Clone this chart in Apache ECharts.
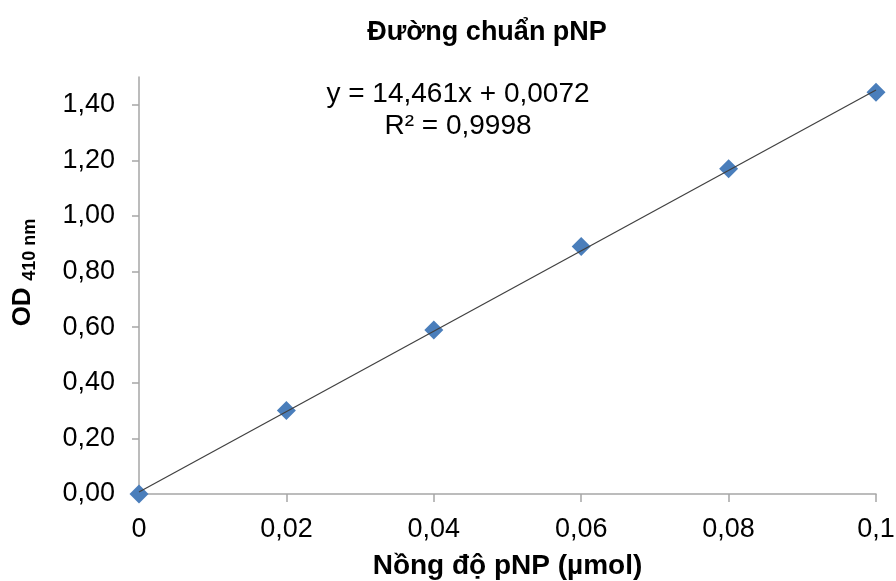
<!DOCTYPE html>
<html>
<head>
<meta charset="utf-8">
<title>Đường chuẩn pNP</title>
<script src="https://cdn.jsdelivr.net/npm/echarts@6.0.0/dist/echarts.min.js"></script>
<style>
	html, body { margin: 0; padding: 0; background: #fff; }
	#main { width: 896px; height: 581px; }
</style>
</head>
<body>
<div id="main"></div>
<script>
// nong do pNP (umol) va OD 410 nm
var concValues = [0, 0.02, 0.04, 0.06, 0.08, 0.1];
var odValues = [0, 0.30, 0.59, 0.89, 1.17, 1.445];

var xTicks = [0, 0.02, 0.04, 0.06, 0.08, 0.1];
var yTicks = [0, 0.2, 0.4, 0.6, 0.8, 1.0, 1.2, 1.4];

// duong xu huong
var slope = 14.461;
var intercept = 0.0072;
var eqText = ['y = 14,461x + 0,0072', 'R² = 0,9998'];

var font = '"Liberation Sans", Arial, sans-serif';
var axisGray = '#a6a6a6';

var points = [];
for (var i = 0; i < concValues.length; i++) {
	points.push([concValues[i], odValues[i]]);
}
var x0 = xTicks[0], x1 = xTicks[xTicks.length - 1];
var trend = [[x0, slope * x0 + intercept], [x1, slope * x1 + intercept]];

function comma(v, d){
	var s = d == null ? String(+v.toFixed(4)) : v.toFixed(d);
	return s.replace('.', ',');
}

var myChart = echarts.init(document.getElementById('main'));
myChart.setOption({
	animation: false,
	title: {
		text: 'Đường chuẩn pNP',
		left: 482,
		top: 14,
		textAlign: 'center',
		textStyle: { fontFamily: font, fontSize: 27, fontWeight: 'bold', color: '#000' }
	},
	grid: { left: 139, right: 20, top: 77, bottom: 87, outerBoundsMode: 'none', containLabel: false },
	xAxis: {
		type: 'value',
		min: 0,
		max: 0.1,
		interval: 0.02,
		name: 'Nồng độ pNP (µmol)',
		nameLocation: 'middle',
		nameGap: 58,
		nameTextStyle: { fontFamily: font, fontSize: 28, fontWeight: 'bold', color: '#000' },
		axisLine: { lineStyle: { color: axisGray, width: 1.5 } },
		axisTick: { show: true, length: 8, lineStyle: { color: axisGray, width: 1.5 } },
		axisLabel: {
			margin: 22,
			fontFamily: font, fontSize: 27, color: '#000',
			formatter: function(v){ return comma(v); }
		},
		splitLine: { show: false }
	},
	yAxis: {
		type: 'value',
		min: 0,
		max: 1.5,
		name: '{a|OD}  {b|410 nm}',
		nameLocation: 'middle',
		nameGap: 100,
		nameTextStyle: {
			padding: [0, 0, 0, 26],
			rich: {
				a: { fontFamily: font, fontSize: 26, fontWeight: 'bold', color: '#000', lineHeight: 32 },
				b: { fontFamily: font, fontSize: 18, fontWeight: 'bold', color: '#000', verticalAlign: 'bottom', lineHeight: 32 }
			}
		},
		axisLine: { show: true, lineStyle: { color: axisGray, width: 1.5 } },
		axisTick: { show: true, length: 7, customValues: yTicks, lineStyle: { color: axisGray, width: 1.5 } },
		axisLabel: {
			margin: 24,
			customValues: yTicks,
			fontFamily: font, fontSize: 27, color: '#000',
			formatter: function(v){ return comma(v, 2); }
		},
		splitLine: { show: false }
	},
	graphic: [{
		type: 'text',
		x: 458,
		y: 78,
		style: {
			text: eqText.join('\n'),
			align: 'center',
			fontFamily: font,
			fontSize: 28,
			lineHeight: 32,
			fill: '#000'
		}
	}],
	series: [
		{
			name: 'trend',
			type: 'line',
			data: trend,
			symbol: 'none',
			lineStyle: { color: '#404040', width: 1.2 },
			z: 3
		},
		{
			name: 'OD',
			type: 'scatter',
			data: points,
			symbol: 'diamond',
			symbolSize: [19, 19],
			itemStyle: { color: '#4a7ebb', opacity: 1 },
			z: 2
		}
	]
});

window.onresize = function(){
	myChart.resize();
}
</script>
</body>
</html>
